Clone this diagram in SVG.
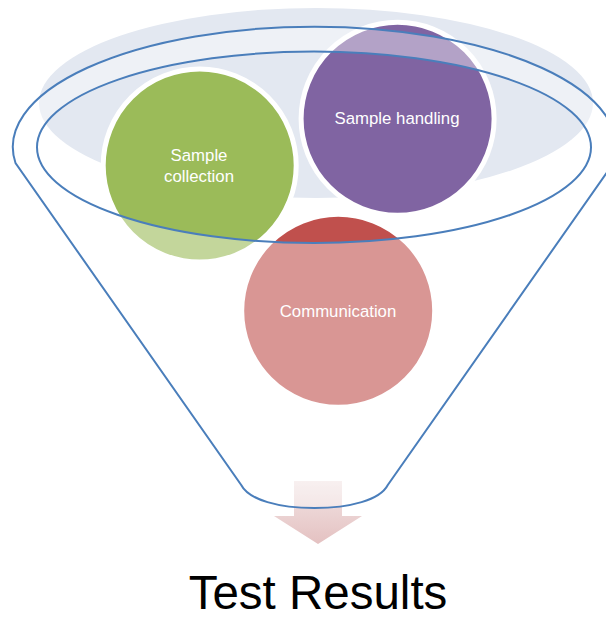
<svg xmlns="http://www.w3.org/2000/svg" width="606" height="619" viewBox="0 0 606 619">
<defs>
<style>
.lbl{font-family:"Liberation Sans",Arial,sans-serif;font-size:16.8px;fill:#ffffff;text-anchor:middle}
.node{stroke:#ffffff;stroke-width:5}
.title{font-family:"Liberation Sans",Arial,sans-serif;font-size:47.5px;fill:#000000;text-anchor:middle}
</style>
<linearGradient id="arrowGrad" x1="0" y1="0" x2="0" y2="1">
<stop offset="0" stop-color="#f3e6e6"/>
<stop offset="1" stop-color="#e4c1c1"/>
</linearGradient>
</defs>
<rect width="606" height="619" fill="#ffffff"/>
<g id="background">
<ellipse cx="316" cy="103" rx="277" ry="95" fill="#e3e8f1"/>
</g>
<g id="node-sample-collection">
<circle class="node" cx="199.7" cy="165.5" r="96.5" fill="#9bbb59"/>
<text class="lbl" x="199" y="161.3">Sample</text>
<text class="lbl" x="199" y="181.7">collection</text>
</g>
<g id="node-sample-handling">
<circle class="node" cx="397.6" cy="118.8" r="96.5" fill="#8064a2"/>
<text class="lbl" x="397" y="124">Sample handling</text>
</g>
<g id="node-communication">
<circle class="node" cx="338.2" cy="310.8" r="96.5" fill="#c0504d"/>
</g>
<g id="connectors">
<path d="M294,481 H342 V516 H362 L318,544 L274,516 H294 Z" fill="url(#arrowGrad)"/>
</g>
<g id="funnel">
<path fill="#ffffff" fill-opacity="0.4" fill-rule="evenodd" stroke="#4a7ebb" stroke-width="2" d="M15.5,163 A301.7,120.3 0 1 1 613.5,163 L387.8,485 C380,500 350,508 314.5,508 C279,508 249,500 241.2,485 Z M37,147.3 A277,95.7 0 1 0 591,147.3 A277,95.7 0 1 0 37,147.3 Z"/>
</g>
<g id="labels-over">
<text class="lbl" x="338" y="317.3">Communication</text>
</g>
<g id="result">
<text class="title" x="318" y="608.5">Test Results</text>
</g>
</svg>
